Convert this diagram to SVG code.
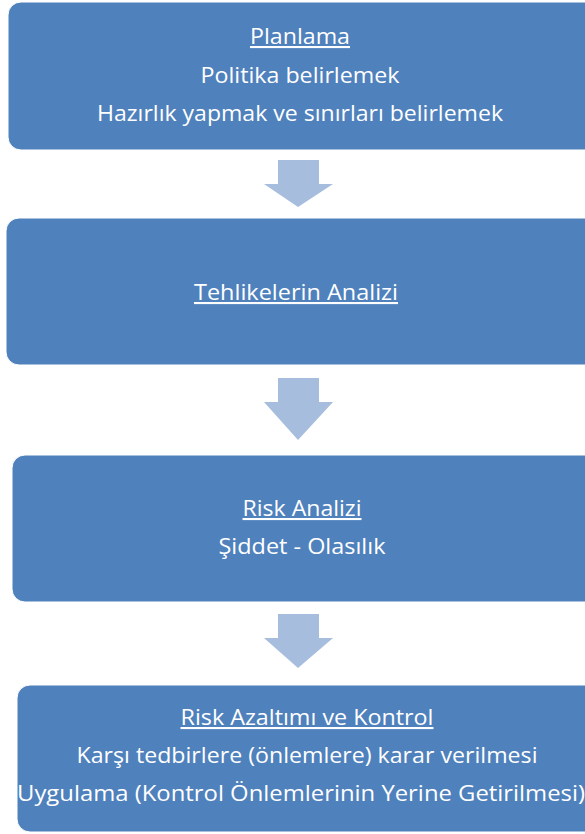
<svg xmlns="http://www.w3.org/2000/svg" width="585" height="834" viewBox="0 0 585 834">
<style>
.box{fill:#4F81BD;stroke:#FFFFFF;stroke-width:1}
.arr{fill:#A7BDDE}
text{font-family:"Open Sans","Liberation Sans",sans-serif;font-size:21px;fill:#FFFFFF;text-anchor:middle}
.u{text-decoration:underline}
</style>
<rect width="585" height="834" fill="#FFFFFF"/>
<g id="connectors">
<polygon class="arr" points="278,160 319,160 319,184 333,184 298,207 264,184 278,184"/>
<polygon class="arr" points="278,378 319,378 319,402 333,402 298,440 264,402 278,402"/>
<polygon class="arr" points="278,614 319,614 319,638 333,638 298,668 264,638 278,638"/>
</g>
<g id="planlama">
<rect class="box" x="8" y="2" width="590" height="148" rx="13"/>
<text class="u" x="300" y="44" textLength="100" lengthAdjust="spacingAndGlyphs">Planlama</text>
<text x="300" y="83" textLength="199" lengthAdjust="spacingAndGlyphs">Politika belirlemek</text>
<text x="300" y="121" textLength="406" lengthAdjust="spacingAndGlyphs">Hazırlık yapmak ve sınırları belirlemek</text>
</g>
<g id="tehlike">
<rect class="box" x="6" y="218" width="592" height="147" rx="13"/>
<text class="u" x="296" y="300" textLength="204" lengthAdjust="spacingAndGlyphs">Tehlikelerin Analizi</text>
</g>
<g id="risk">
<rect class="box" x="12" y="455" width="586" height="147" rx="13"/>
<text class="u" x="302" y="516" textLength="119" lengthAdjust="spacingAndGlyphs">Risk Analizi</text>
<text x="302" y="554" textLength="167" lengthAdjust="spacingAndGlyphs">Şiddet - Olasılık</text>
</g>
<g id="azaltim">
<rect class="box" x="17" y="685" width="581" height="147" rx="13"/>
<text class="u" x="307" y="725" textLength="253" lengthAdjust="spacingAndGlyphs">Risk Azaltımı ve Kontrol</text>
<text x="307" y="763" textLength="461" lengthAdjust="spacingAndGlyphs">Karşı tedbirlere (önlemlere) karar verilmesi</text>
<text x="301" y="801" textLength="568" lengthAdjust="spacingAndGlyphs">Uygulama (Kontrol Önlemlerinin Yerine Getirilmesi)</text>
</g>
</svg>
